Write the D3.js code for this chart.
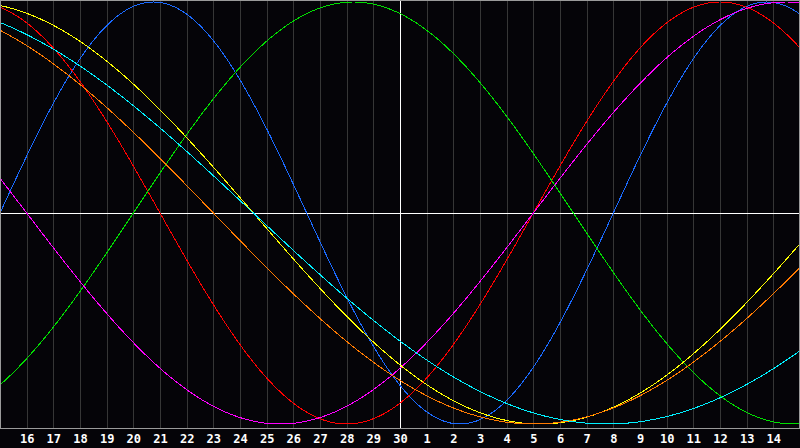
<!DOCTYPE html>
<html>
<head>
<meta charset="utf-8">
<script src="https://cdn.jsdelivr.net/npm/d3@7"></script>
<style>
  html, body { margin: 0; padding: 0; background: #050408; }
  svg { display: block; }
</style>
</head>
<body>
<svg id="chart" width="800" height="448"></svg>
<script>
// dimensioni
const svg = d3.select('#chart')
const svgWidth = 800
const plotHeight = 428

// etichette dei giorni (una per ogni linea verticale)
const dayLabels = ['16','17','18','19','20','21','22','23','24','25','26','27','28','29','30',
  '1','2','3','4','5','6','7','8','9','10','11','12','13','14']

// cicli del bioritmo: durata in giorni e giorno del ciclo al bordo sinistro
const cycleNames = ['physical','emotional','intellectual','intuitive','aesthetic','awareness','spiritual']
const cycleDays = [23, 28, 33, 38, 43, 48, 53]
const startDay = [0, 8, 28, 18, 12, 16, 17]
const cycleColors = ['#1a6aff','#ff0000','#00dd00','#ff00ff','#ffff00','#ff7a00','#00f0ff']

const daysShown = 30

const xScale = d3.scaleLinear()
  .domain([0, daysShown])
  .range([0, svgWidth])

const yScale = d3.scaleLinear()
  .domain([-1, 1])
  .range([424, 2])

// sfondo
svg.append('rect')
  .attr('width', 800).attr('height', 448)
  .attr('fill', '#050408')

// asse x con linee verticali della griglia
const xAxis = svg.append('g')
  .attr('transform', `translate(0, ${plotHeight})`)
  .call(d3.axisBottom(xScale)
    .tickValues(d3.range(1, daysShown))
    .tickSize(-plotHeight)
    .tickFormat((d, i) => dayLabels[i]))

xAxis.select('path.domain').remove()
xAxis.selectAll('.tick line')
  .attr('stroke', d => d === 15 ? '#ffffff' : '#363636')
  .attr('shape-rendering', 'crispEdges')
xAxis.selectAll('.tick text')
  .attr('y', 15)
  .attr('dy', 0)
  .attr('fill', '#ffffff')
  .style('font-family', "'DejaVu Sans Mono', monospace")
  .style('font-weight', 'bold')
  .style('font-size', '12px')

// linea orizzontale centrale
svg.append('line')
  .attr('x1', 0).attr('x2', svgWidth)
  .attr('y1', yScale(0)).attr('y2', yScale(0))
  .attr('stroke', '#ffffff')
  .attr('shape-rendering', 'crispEdges')

// curve
const steps = d3.range(0, daysShown * 20 + 1).map(i => i / 20)
const line = d3.line()
  .x(d => xScale(d.t))
  .y(d => yScale(d.v))

cycleNames.forEach((name, i) => {
  const pts = steps.map(t => ({
    t: t,
    v: Math.sin(2 * Math.PI * (startDay[i] + t) / cycleDays[i])
  }))
  svg.append('path')
    .datum(pts)
    .attr('class', name)
    .attr('d', line)
    .attr('fill', 'none')
    .attr('stroke', cycleColors[i])
    .attr('stroke-width', 1)
    .attr('shape-rendering', 'crispEdges')
})

// bordo del grafico
svg.append('rect')
  .attr('x', 0.5).attr('y', 0.5)
  .attr('width', svgWidth - 1).attr('height', plotHeight)
  .attr('fill', 'none')
  .attr('stroke', '#9a9a9a')
  .attr('shape-rendering', 'crispEdges')
</script>
</body>
</html>
